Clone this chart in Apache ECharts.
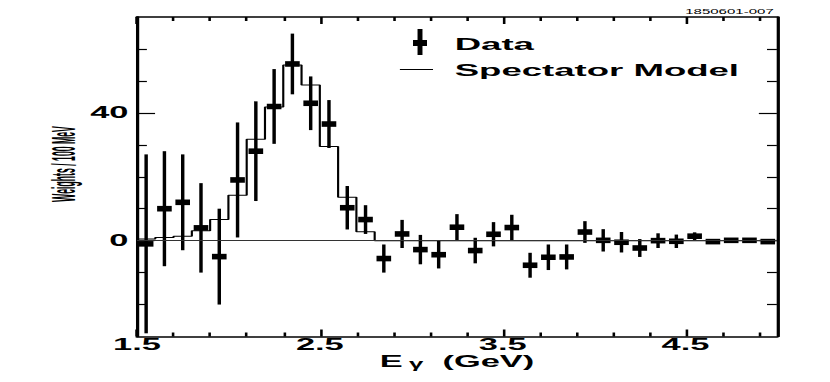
<!DOCTYPE html>
<html lang="en">
<head>
    <meta charset="UTF-8">
    <title>Weights vs E gamma</title>
    <script src="https://cdn.jsdelivr.net/npm/echarts@6.0.0/dist/echarts.min.js"></script>
    <style>
        html, body { margin: 0; padding: 0; background: #fff; overflow: hidden; }
        /* the original figure is stretched sideways, so draw narrow and stretch */
        #main { width: 386px; height: 382px; transform: scaleX(2.15); transform-origin: 0 0; }
    </style>
</head>
<body>
<div id="main"></div>
<script>
    const S = 2.15;

    // data: bin centres (GeV), weights / 100 MeV, errors
    const dataX = [1.55, 1.65, 1.75, 1.85, 1.95, 2.05, 2.15, 2.25, 2.35, 2.45, 2.55, 2.65,
        2.75, 2.85, 2.95, 3.05, 3.15, 3.25, 3.35, 3.45, 3.55, 3.65, 3.75, 3.85,
        3.95, 4.05, 4.15, 4.25, 4.35, 4.45, 4.55, 4.65, 4.75, 4.85, 4.95];
    const dataY = [-1, 10, 12, 4, -5, 19, 28, 42, 55.3, 43, 36.5, 10.3,
        6.6, -5.6, 2.1, -2.8, -4.4, 4.2, -3.1, 2, 4.1, -7.7, -5.2, -5.1,
        2.7, 0.1, -0.5, -2.3, 0, -0.2, 1.4, -0.3, 0.1, 0.1, -0.3];
    const dataErr = [28, 18, 15, 14, 15, 18, 15.6, 11.7, 9.5, 8.4, 7.5, 6.8,
        4.5, 4.4, 4.4, 4.6, 4.3, 4.1, 4, 3.8, 4, 3.9, 4, 3.9,
        3.4, 3.5, 3.2, 2.8, 2.3, 2.1, 1.2, 0.5, 0.5, 0.5, 0.5];
    const binWidth = 0.1;

    // spectator model histogram: low bin edges and heights
    const modelEdges = [1.5, 1.6, 1.7, 1.8, 1.9, 2.0, 2.1, 2.2, 2.3, 2.4, 2.5, 2.6, 2.7, 2.8, 5.0];
    const modelVals = [0.5, 1.0, 1.4, 3.1, 6.6, 14.2, 31.7, 41.8, 55, 48.7, 29.5, 13.6, 2.8, 0, 0];

    // ticks
    const xTickLabels = [1.5, 2.5, 3.5, 4.5];
    const xMinorTicks = [1.7, 1.9, 2.1, 2.3, 2.7, 2.9, 3.1, 3.3, 3.7, 3.9, 4.1, 4.3, 4.7, 4.9];
    const yTickLabels = [0, 40];
    const yMinorTicks = [-20, -10, 10, 20, 30, 50, 60];

    const black = '#000';
    const font = '"Liberation Sans", Arial, sans-serif';

    function xAx(pos, ticks, len, line, label) {
        return {
            type: 'value', min: 1.5, max: 5.0, position: pos,
            axisLine: {show: line, onZero: false, lineStyle: {color: black, width: 1.5}},
            axisTick: {show: true, inside: true, length: len, customValues: ticks,
                lineStyle: {color: black, width: 1.2}},
            axisLabel: {show: label, customValues: xTickLabels, margin: 2, lineHeight: 12,
                formatter: v => v.toFixed(1),
                color: black, fontSize: 16, fontWeight: 'bold', fontFamily: font},
            splitLine: {show: false}
        };
    }

    function yAx(pos, ticks, len, line, label) {
        return {
            type: 'value', min: -30, max: 70, position: pos,
            axisLine: {show: line, onZero: false, lineStyle: {color: black, width: 1.5}},
            axisTick: {show: true, inside: true, length: len, customValues: ticks,
                lineStyle: {color: black, width: 1.2}},
            axisLabel: {show: label, customValues: yTickLabels, margin: 4,
                color: black, fontSize: 16, fontWeight: 'bold', fontFamily: font},
            splitLine: {show: false}
        };
    }

    const xMain = xAx('bottom', xMinorTicks, 4, true, true);
    xMain.name = '{a|E}{g|γ}{a|  (GeV)}';
    xMain.nameLocation = 'middle';
    xMain.nameGap = 20;
    xMain.nameMoveOverlap = false;
    xMain.nameTextStyle = {
        rich: {
            a: {fontSize: 16, lineHeight: 10, fontWeight: 'bold', fontFamily: font, color: black},
            g: {fontSize: 12, lineHeight: 10, fontWeight: 'bold', fontFamily: font, color: black,
                padding: [5, 0, 0, 3]}
        }
    };

    const chart = echarts.init(document.getElementById('main'), null, {renderer: 'svg'});
    chart.setOption({
        animation: false,
        backgroundColor: '#fff',
        title: {
            text: '1850601-007', right: (830 - 774) / S, top: 8, padding: 0,
            textStyle: {fontSize: 7, fontWeight: 'normal', color: black, fontFamily: font}
        },
        grid: {left: 137 / S, right: (830 - 777) / S, top: 17, bottom: 45.5},
        xAxis: [
            xMain,
            xAx('bottom', xTickLabels, 7, false, false),
            xAx('top', xMinorTicks, 4, true, false),
            xAx('top', xTickLabels, 7, false, false)
        ],
        yAxis: [
            yAx('left', yMinorTicks, 4.6, true, true),
            yAx('left', yTickLabels, 8.4, false, false),
            yAx('right', yMinorTicks, 4.6, true, false),
            yAx('right', yTickLabels, 8.4, false, false)
        ],
        graphic: [
            {type: 'rect', shape: {x: 192.1, y: 40, width: 6.5, height: 6}, style: {fill: black}},
            {type: 'rect', shape: {x: 194.2, y: 29, width: 2.3, height: 26}, style: {fill: black}},
            {type: 'text', x: 211.5, y: 44,
                style: {text: 'Data', font: 'bold 17px ' + font, fill: black,
                    textVerticalAlign: 'middle', verticalAlign: 'middle'}},
            {type: 'line', shape: {x1: 186, y1: 69.5, x2: 201.4, y2: 69.5},
                style: {stroke: black, lineWidth: 1}},
            {type: 'text', x: 211.5, y: 70,
                style: {text: 'Spectator Model', font: 'bold 17px ' + font, fill: black,
                    textVerticalAlign: 'middle', verticalAlign: 'middle'}},
            {type: 'text', x: 29.7, y: 164, rotation: Math.PI / 2, scaleX: 0.57,
                style: {text: 'Weights / 100 MeV', font: 'bold 15.3px ' + font, fill: black,
                    textAlign: 'center', align: 'center',
                    textVerticalAlign: 'middle', verticalAlign: 'middle'}}
        ],
        series: [
            {
                name: 'Spectator Model',
                type: 'line',
                step: 'end',
                symbol: 'none',
                lineStyle: {color: black, width: 1},
                data: modelEdges.map((x, i) => [x, modelVals[i]]),
                markLine: {
                    silent: true,
                    symbol: 'none',
                    label: {show: false},
                    lineStyle: {color: '#333', width: 1, type: 'solid'},
                    data: [{yAxis: 0}]
                },
                z: 2
            },
            {
                name: 'Data',
                type: 'custom',
                data: dataX.map((x, i) => [x, dataY[i], dataErr[i]]),
                renderItem: function (params, api) {
                    const x = api.value(0), y = api.value(1), e = api.value(2);
                    const c = api.coord([x, y]);
                    const hi = api.coord([x, y + e]);
                    const lo = api.coord([x, y - e]);
                    const w = api.size([binWidth, 0])[0] * 0.8;
                    return {
                        type: 'group',
                        children: [
                            {type: 'rect', shape: {x: c[0] - 0.8, y: hi[1], width: 1.6, height: lo[1] - hi[1]},
                                style: {fill: black}},
                            {type: 'rect', shape: {x: c[0] - w / 2, y: c[1] - 2.8, width: w, height: 5.6},
                                style: {fill: black}}
                        ]
                    };
                },
                z: 3
            }
        ]
    });
</script>
</body>
</html>
